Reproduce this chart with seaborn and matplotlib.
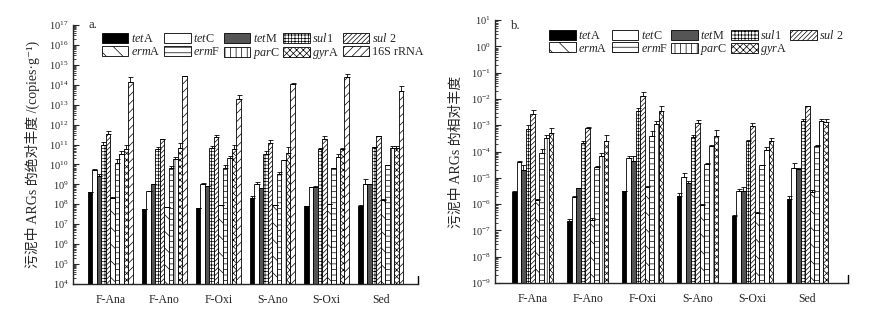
import numpy as np
import pandas as pd
import matplotlib
matplotlib.use("Agg")
import matplotlib.pyplot as plt
from matplotlib.patches import Patch
import matplotlib.ticker as mticker
import seaborn as sns

# ---------------- data ----------------
samples = ["F-Ana", "F-Ano", "F-Oxi", "S-Ano", "S-Oxi", "Sed"]

genes_a = ["tetA", "tetC", "tetM", "sul1", "sul2", "ermA", "ermF", "parC", "gyrA", "16S"]
genes_b = genes_a[:-1]

# a. absolute abundance (copies/g)
abs_mean = {
    "tetA": [4e8, 6e7, 6.5e7, 2e8, 8e7, 8e7],
    "tetC": [5.5e9, 4.5e8, 1e9, 1e9, 7e8, 1.1e9],
    "tetM": [2.5e9, 1.1e9, 8e8, 6.5e8, 7.5e8, 1.1e9],
    "sul1": [1e11, 6e10, 6.5e10, 3.5e10, 6e10, 7.5e10],
    "sul2": [3.5e11, 2e11, 2.3e11, 1.2e11, 2e11, 2.7e11],
    "ermA": [2e8, 7e7, 9e7, 9e7, 1e8, 1.6e8],
    "ermF": [1.2e10, 6.5e9, 7e9, 3.5e9, 6.5e9, 9e9],
    "parC": [3.5e10, 1.8e10, 2e10, 1.6e10, 2.5e10, 6.5e10],
    "gyrA": [6e10, 6.5e10, 6e10, 3.8e10, 6e10, 6.5e10],
    "16S": [1.4e14, 2.8e14, 2e13, 1.05e14, 2.4e14, 5e13],
}
abs_err = {
    "tetA": [0, 0, 0, 5e7, 0, 1.5e7],
    "tetC": [5e8, 0, 2e8, 3e8, 0, 8e8],
    "tetM": [1e9, 0, 0, 0, 5e7, 0],
    "sul1": [4e10, 1.5e10, 2e10, 1.2e10, 5e9, 0],
    "sul2": [1.2e11, 0, 8e10, 5e10, 6e10, 0],
    "ermA": [2e7, 0, 0, 0, 0, 3e7],
    "ermF": [6e9, 1.5e9, 2e9, 8e8, 0, 0],
    "parC": [1.5e10, 5e9, 8e9, 0, 1e10, 2e10],
    "gyrA": [4e10, 5e10, 3e10, 3.5e10, 1e10, 1.5e10],
    "16S": [1.2e14, 0, 1e13, 2.5e13, 1.2e14, 4e13],
}

# b. relative abundance (ARG / 16S)
rel_mean = {
    "tetA": [2.8e-6, 2.3e-7, 3.3e-6, 2e-6, 3.5e-7, 1.6e-6],
    "tetC": [4e-5, 1.8e-6, 5.5e-5, 1.1e-5, 3.3e-6, 2.3e-5],
    "tetM": [2e-5, 4e-6, 4.5e-5, 6.5e-6, 3.3e-6, 2.1e-5],
    "sul1": [7.5e-4, 2.2e-4, 3.4e-3, 3.6e-4, 2.5e-4, 1.5e-3],
    "sul2": [2.6e-3, 8e-4, 1.3e-2, 1.2e-3, 9.5e-4, 5.3e-3],
    "ermA": [1.5e-6, 2.6e-7, 4.3e-6, 9.5e-7, 4.6e-7, 3e-6],
    "ermF": [9e-5, 2.5e-5, 4e-4, 3.5e-5, 3e-5, 1.7e-4],
    "parC": [3.2e-4, 7e-5, 1.1e-3, 1.6e-4, 1.1e-4, 1.4e-3],
    "gyrA": [5e-4, 2.6e-4, 3.4e-3, 3.8e-4, 2.6e-4, 1.3e-3],
}
rel_err = {
    "tetA": [4e-7, 4e-8, 0, 7e-7, 5e-8, 4e-7],
    "tetC": [5e-6, 2e-7, 1.5e-5, 4e-6, 6e-7, 1.5e-5],
    "tetM": [1e-5, 0, 2e-5, 1e-6, 1e-6, 2e-6],
    "sul1": [3e-4, 4e-5, 1.2e-3, 8e-5, 2e-5, 2e-4],
    "sul2": [1.1e-3, 5e-5, 5e-3, 4e-4, 2.5e-4, 0],
    "ermA": [1e-7, 3e-8, 6e-7, 1e-7, 4e-8, 6e-7],
    "ermF": [3e-5, 4e-6, 2e-4, 3e-6, 1e-6, 1e-5],
    "parC": [1e-4, 2e-5, 4e-4, 2e-5, 4e-5, 4e-4],
    "gyrA": [3e-4, 1.8e-4, 1.8e-3, 3e-4, 6e-5, 4e-4],
}

# legend text (italic gene prefix)
labels = {
    "tetA": r"$\it{tet}$A", "tetC": r"$\it{tet}$C", "tetM": r"$\it{tet}$M",
    "sul1": r"$\it{sul}$1", "sul2": r"$\it{sul}$ 2", "ermA": r"$\it{erm}$A",
    "ermF": r"$\it{erm}$F", "parC": r"$\it{par}$C", "gyrA": r"$\it{gyr}$A",
    "16S": "16S rRNA",
}

# fill / hatch per gene
style = {
    "tetA": ("black", ""), "tetC": ("white", ""), "tetM": ("#555555", ""),
    "sul1": ("white", "+++++"), "sul2": ("white", "///////"),
    "ermA": ("white", "\\\\"), "ermF": ("white", "---"),
    "parC": ("white", "|||"), "gyrA": ("white", "xxxxx"),
    "16S": ("white", "////"),
}

# ---------------- style ----------------
sns.set_style("ticks")
plt.rcParams["font.family"] = ["Liberation Serif", "Noto Sans CJK SC", "DejaVu Serif"]
plt.rcParams["mathtext.fontset"] = "custom"
plt.rcParams["mathtext.rm"] = "Liberation Serif"
plt.rcParams["mathtext.it"] = "Liberation Serif:italic"
plt.rcParams["hatch.linewidth"] = 0.5
plt.rcParams["axes.linewidth"] = 1.0


def long_df(mean, genes):
    rows = []
    for g in genes:
        for s, v in zip(samples, mean[g]):
            rows.append({"sample": s, "gene": g, "value": v})
    return pd.DataFrame(rows)


def draw_panel(ax, mean, err, genes, width, ylim, xlim, ylabel, label_x, tag, tag_y, leg_anchor):
    df = long_df(mean, genes)
    ax.set_yscale("log")
    sns.barplot(data=df, x="sample", y="value", hue="gene", hue_order=genes,
                order=samples, palette={g: style[g][0] for g in genes},
                saturation=1, width=width, errorbar=None,
                legend=False, ax=ax)
    bar_conts = list(ax.containers)
    for g, cont in zip(genes, bar_conts):
        fc, hatch = style[g]
        xs, ys = [], []
        for bar in cont.patches:
            top = bar.get_y() + bar.get_height()
            # start the bar at the bottom of the log axis
            bar.set_y(ylim[0])
            bar.set_height(top - ylim[0])
            bar.set_facecolor(fc)
            bar.set_edgecolor("black")
            bar.set_linewidth(0.6)
            bar.set_hatch(hatch)
            xs.append(bar.get_x() + bar.get_width() / 2)
            ys.append(top)
        e = np.array(err[g])
        ax.errorbar(xs, ys, yerr=[np.zeros_like(e), e], fmt="none",
                    ecolor="black", elinewidth=0.6, capsize=1.8, capthick=0.6)

    ax.set_ylim(*ylim)
    ax.set_xlim(*xlim)
    ax.set_xlabel("")
    ax.set_ylabel(ylabel, fontsize=10)
    ax.yaxis.set_label_coords(label_x, 0.5)
    ax.tick_params(axis="x", length=0, labelsize=8.5, pad=7)
    ax.tick_params(axis="y", which="major", direction="in", length=4, labelsize=7.5, pad=3)
    ax.tick_params(axis="y", which="minor", direction="in", length=2)
    lo, hi = int(round(np.log10(ylim[0]))), int(round(np.log10(ylim[1])))
    decades = [10.0 ** k for k in range(lo, hi + 1)]
    minors = [m * d for d in decades[:-1] for m in range(2, 10)]
    ax.yaxis.set_major_locator(mticker.FixedLocator(decades))
    ax.yaxis.set_major_formatter(mticker.LogFormatterSciNotation())
    ax.yaxis.set_minor_locator(mticker.FixedLocator(minors))
    ax.yaxis.set_minor_formatter(mticker.NullFormatter())
    sns.despine(ax=ax)
    ax.plot([1, 1], [0, 0.03], transform=ax.transAxes, color="black", lw=1, clip_on=False)
    ax.text(0.045, tag_y, tag, transform=ax.transAxes, fontsize=9, va="top")

    # legend filled row-wise
    handles = [Patch(facecolor=style[g][0], edgecolor="black", hatch=style[g][1],
                     linewidth=0.6, label=labels[g]) for g in genes]
    order = []
    for c in range(5):
        for r in range(2):
            i = r * 5 + c
            if i < len(handles):
                order.append(i)
    ax.legend([handles[i] for i in order], [handles[i].get_label() for i in order],
              ncol=5, loc="upper left", bbox_to_anchor=leg_anchor, frameon=False,
              fontsize=8.7, handlelength=2.2, handleheight=0.9, handletextpad=0.2,
              columnspacing=0.3, labelspacing=0.05, borderaxespad=0)


fig = plt.figure(figsize=(8.78, 3.09), dpi=100)
ax_a = fig.add_axes([0.083, 0.081, 0.393, 0.838])
ax_b = fig.add_axes([0.564, 0.084, 0.402, 0.851])

draw_panel(ax_a, abs_mean, abs_err, genes_a, 0.83, (1e4, 1e17), (-0.69, 5.69),
           "污泥中 ARGs 的绝对丰度 /(copies·g⁻¹)", -0.095, "a.", 1.025, (0.07, 0.99))
draw_panel(ax_b, rel_mean, rel_err, genes_b, 0.75, (1e-9, 1e1), (-0.68, 5.74),
           "污泥中 ARGs 的相对丰度", -0.093, "b.", 1.0, (0.14, 0.985))

fig.savefig("out.png", dpi=100)
